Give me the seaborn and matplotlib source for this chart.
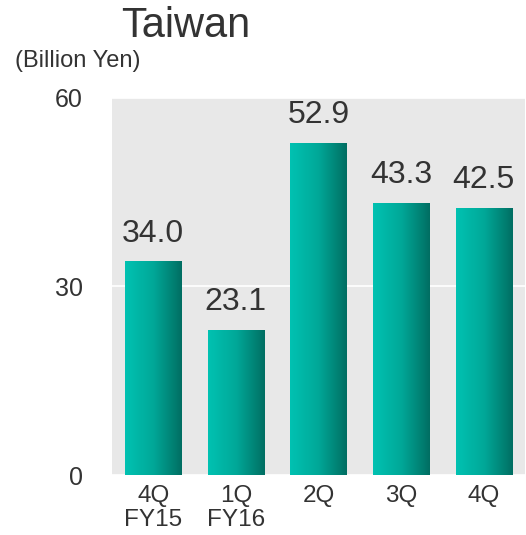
import numpy as np
import pandas as pd
import matplotlib
matplotlib.use("Agg")
import matplotlib.pyplot as plt
from matplotlib.colors import LinearSegmentedColormap
import seaborn as sns

# Quarterly sales, Taiwan (billion yen)
quarters = ["4Q\nFY15", "1Q\nFY16", "2Q", "3Q", "4Q"]
sales = [34.0, 23.1, 52.9, 43.3, 42.5]
y_ticks = [0, 30, 60]

df = pd.DataFrame({"quarter": quarters, "sales": sales})

sns.set_theme(style="white")
plt.rcParams["font.family"] = ["Liberation Sans", "DejaVu Sans"]
text_color = "#333333"

fig = plt.figure(figsize=(5.26, 5.35), dpi=100)
ax = fig.add_axes([0.213, 0.112, 0.785, 0.705])
ax.set_facecolor("#E8E8E8")

sns.barplot(data=df, x="quarter", y="sales", ax=ax, width=0.68,
            color="#00A090", saturation=1, zorder=2)

ax.set_ylim(0, 60)
ax.set_xlim(-0.5, len(quarters) - 0.5)
ax.set_yticks(y_ticks)
ax.yaxis.grid(True, color="white", linewidth=1.2, zorder=0)
ax.set_axisbelow(True)
for s in ax.spines.values():
    s.set_visible(False)

# Horizontal teal gradient fill for each bar
cmap = LinearSegmentedColormap.from_list("teal", ["#00C2B2", "#00A898", "#006E62"])
grad = np.linspace(0, 1, 256).reshape(1, -1)
for patch in ax.patches:
    x0, y0 = patch.get_x(), patch.get_y()
    w, h = patch.get_width(), patch.get_height()
    im = ax.imshow(grad, cmap=cmap, aspect="auto", extent=[x0, x0 + w, y0, y0 + h],
                   zorder=3, interpolation="bilinear")
    im.set_clip_path(patch)
    patch.set_facecolor("none")
    patch.set_edgecolor("none")

ax.set_xlim(-0.5, len(quarters) - 0.5)
ax.set_ylim(0, 60)

# Value labels above bars
for i, v in enumerate(sales):
    ax.annotate(f"{v:.1f}", xy=(i, v), xytext=(0, 9), textcoords="offset points",
                ha="center", va="bottom", fontsize=23, color=text_color)

ax.set_xlabel("")
ax.set_ylabel("")
ax.tick_params(axis="both", length=0, labelsize=18, labelcolor=text_color)
ax.tick_params(axis="y", pad=21)
ax.tick_params(axis="x", pad=7)
for lbl in ax.get_xticklabels():
    lbl.set_linespacing(1.1)
    lbl.set_fontsize(17.5)

fig.text(0.354, 0.952, "Taiwan", ha="center", va="center", fontsize=30, color=text_color)
fig.text(0.028, 0.886, "(Billion Yen)", ha="left", va="center", fontsize=17, color=text_color)

fig.savefig("out.png", dpi=100, facecolor="white")
